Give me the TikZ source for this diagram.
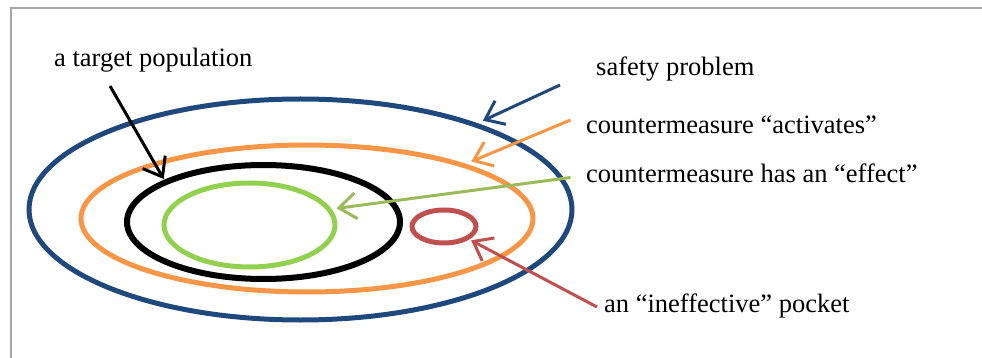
\documentclass[tikz,border=0pt]{standalone}
\usepackage{fontspec}
\setmainfont{Liberation Serif}
\usetikzlibrary{arrows.meta,shapes.geometric}

\definecolor{ringblue}{HTML}{1F497D}
\definecolor{ringorange}{HTML}{F79646}
\definecolor{ringgreen}{HTML}{92D050}
\definecolor{arrowgreen}{HTML}{9BBB59}
\definecolor{pocketred}{HTML}{C0504D}
\definecolor{framegray}{HTML}{A6A6A6}

\tikzset{
  ring/.style={ellipse, draw, inner sep=0pt, line width=5pt},
  label/.style={anchor=base west, inner sep=0pt, font=\fontsize{26.5}{30}\selectfont},
  pointer/.style={line width=3pt, -{Straight Barb[length=17pt, width=26pt]}},
}

\begin{document}
\begin{tikzpicture}[x=1pt, y=-1pt]
  \useasboundingbox (0,0) rectangle (982,358);

  % panel frame
  \draw[framegray, line width=1.6pt] (11,358) -- (11,8) -- (982,8);

  % nested regions
  \node[ring, draw=ringblue, minimum width=543pt, minimum height=221pt] (problem) at (300.5,209.5) {};
  \node[ring, draw=ringorange, minimum width=452pt, minimum height=147pt] (activates) at (307,218.5) {};
  \node[ring, draw=black, line width=6pt, minimum width=273pt, minimum height=114pt] (target) at (263.5,222) {};
  \node[ring, draw=ringgreen, minimum width=171pt, minimum height=84pt] (effect) at (249.5,225) {};
  \node[ring, draw=pocketred, minimum width=64pt, minimum height=33pt] (pocket) at (444,226.5) {};

  % labels
  \node[label] (lbl-target) at (54,66.5) {a target population};
  \node[label] (lbl-problem) at (596,76) {safety problem};
  \node[label] (lbl-activates) at (586,134) {countermeasure “activates”};
  \node[label] (lbl-effect) at (586,183) {countermeasure has an “effect”};
  \node[label] (lbl-pocket) at (604,312.5) {an “ineffective” pocket};

  % pointer tails next to the labels
  \coordinate (t-target) at (110,86);
  \coordinate (t-problem) at (560,85);
  \coordinate (t-activates) at (570.5,120);
  \coordinate (t-effect) at (570.5,177.5);
  \coordinate (t-pocket) at (597,307);

  % pointers
  \draw[pointer, black, shorten >=1pt] (t-target) -- (target.157);
  \draw[pointer, ringblue, shorten >=6pt] (t-problem) -- (problem.26);
  \draw[pointer, ringorange, shorten >=6pt] (t-activates) -- (activates.19);
  \draw[pointer, arrowgreen, shorten >=5pt] (t-effect) -- (effect.11);
  \draw[pointer, pocketred, shorten >=2pt] (t-pocket) -- (pocket.-27);
\end{tikzpicture}
\end{document}
